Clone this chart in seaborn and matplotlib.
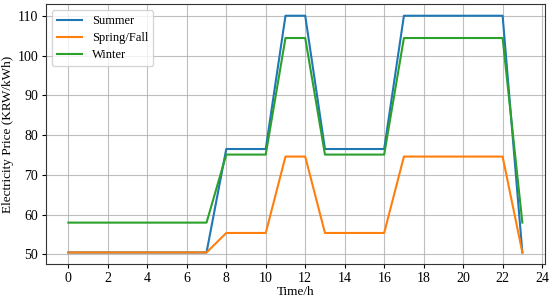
import pandas as pd
import matplotlib
matplotlib.use("Agg")
import matplotlib.pyplot as plt
import seaborn as sns

# hourly electricity tariff (KRW/kWh) by season
hours = list(range(24))
summer = [50.5] * 8 + [76.5, 76.5, 76.5, 110, 110, 76.5, 76.5, 76.5, 76.5] + [110] * 6 + [50.5]
spring_fall = [50.5] * 8 + [55.4, 55.4, 55.4, 74.6, 74.6, 55.4, 55.4, 55.4, 55.4] + [74.6] * 6 + [50.5]
winter = [58.0] * 8 + [75.1, 75.1, 75.1, 104.4, 104.4, 75.1, 75.1, 75.1, 75.1] + [104.4] * 6 + [58.0]
seasons = ["Summer", "Spring/Fall", "Winter"]

df = pd.DataFrame({
    "hour": hours * 3,
    "price": summer + spring_fall + winter,
    "season": [s for s in seasons for _ in hours],
})

plt.rcParams["font.family"] = ["Liberation Serif", "DejaVu Serif"]
plt.rcParams["font.size"] = 10

fig = plt.figure(figsize=(5.5, 3), dpi=100)
ax = fig.add_axes([0.083, 0.119, 0.908, 0.868])

sns.lineplot(data=df, x="hour", y="price", hue="season", hue_order=seasons,
             palette=["#1f77b4", "#ff7f0e", "#2ca02c"], linewidth=1.5, ax=ax)

ax.set_xticks(range(0, 25, 2))
ax.set_yticks(range(50, 111, 10))
ax.tick_params(length=3, pad=2.5)
ax.grid(True, color="#b0b0b0", linewidth=0.8, alpha=0.8)
ax.set_axisbelow(True)
ax.set_xlabel("Time/h", labelpad=1, fontsize=9.5)
ax.set_ylabel("Electricity Price (KRW/kWh)", labelpad=2, fontsize=9.5)
ax.legend(loc="upper left", title=None, fontsize=9, labelspacing=0.4,
          handlelength=2.0)
for sp in ax.spines.values():
    sp.set_color("#333333")

fig.savefig("out.png", dpi=100)
